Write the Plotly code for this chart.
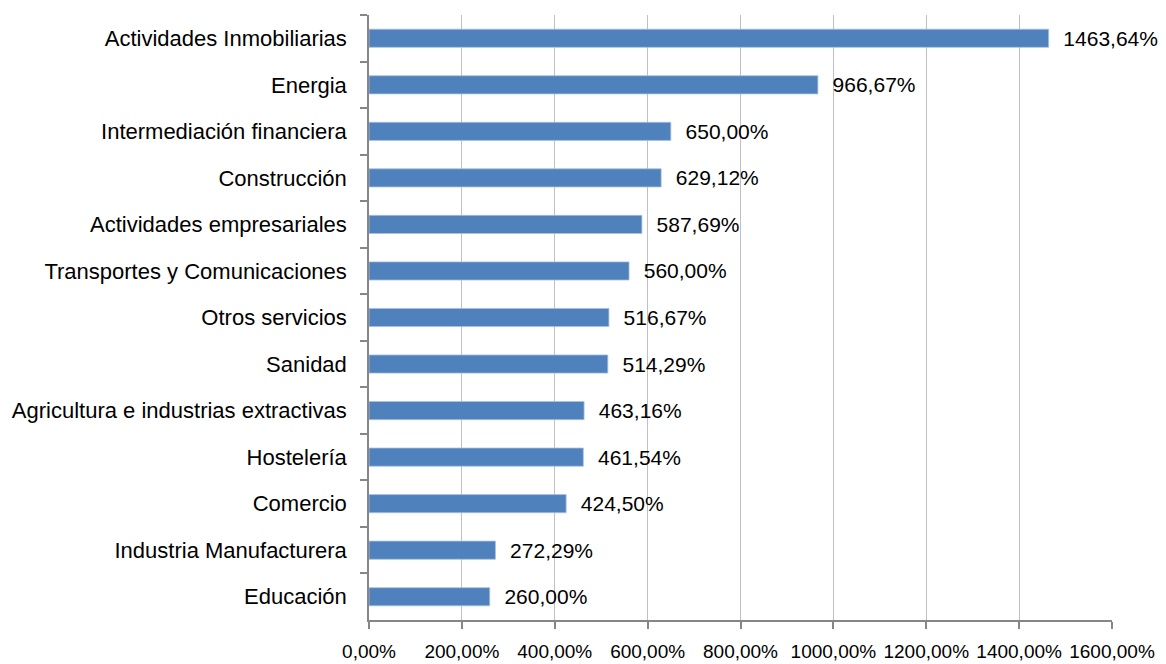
import plotly.graph_objects as go

categories = [
    "Actividades Inmobiliarias",
    "Energia",
    "Intermediación financiera",
    "Construcción",
    "Actividades empresariales",
    "Transportes y Comunicaciones",
    "Otros servicios",
    "Sanidad",
    "Agricultura e industrias extractivas",
    "Hostelería",
    "Comercio",
    "Industria Manufacturera",
    "Educación",
]
values = [1463.64, 966.67, 650.00, 629.12, 587.69, 560.00, 516.67,
          514.29, 463.16, 461.54, 424.50, 272.29, 260.00]
tick_vals = [0, 200, 400, 600, 800, 1000, 1200, 1400, 1600]
tick_text = [f"{v:.2f}".replace(".", ",") + "%" for v in tick_vals]

fig = go.Figure(go.Bar(
    x=values,
    y=categories,
    orientation="h",
    marker=dict(color="#4F81BD", line=dict(color="#a9c0de", width=0.8)),
    texttemplate="\u00a0\u00a0%{x:.2f}%",
    textposition="outside",
    constraintext="none",
    textfont=dict(family="Liberation Sans, Arial, sans-serif", size=21, color="#000000"),
    cliponaxis=False,
    hoverinfo="skip",
))

fig.update_layout(
    width=1158,
    height=656,
    margin=dict(l=361, r=54, t=7, b=44),
    paper_bgcolor="white",
    plot_bgcolor="white",
    bargap=0.61,
    separators=",.",
    showlegend=False,
    font=dict(family="Liberation Sans, Arial, sans-serif", color="#000000"),
)

fig.update_xaxes(
    range=[0, 1600],
    tickvals=tick_vals,
    ticktext=tick_text,
    showgrid=True,
    gridcolor="#c0c0c0",
    gridwidth=1,
    zeroline=False,
    showline=True,
    linecolor="#868686",
    linewidth=1.5,
    ticks="outside",
    ticklen=7,
    tickcolor="#868686",
    tickwidth=1.5,
    tickfont=dict(size=19, color="#000000"),
    ticklabelstandoff=6,
    automargin=False,
)

fig.update_yaxes(
    categoryorder="array",
    categoryarray=categories,
    autorange="reversed",
    showline=True,
    linecolor="#868686",
    linewidth=1.5,
    ticks="outside",
    tickson="boundaries",
    ticklen=7,
    tickcolor="#868686",
    tickwidth=1.5,
    showgrid=False,
    tickfont=dict(size=22, color="#000000"),
    ticklabelstandoff=16,
    automargin=False,
)

fig.write_html("out.html")
